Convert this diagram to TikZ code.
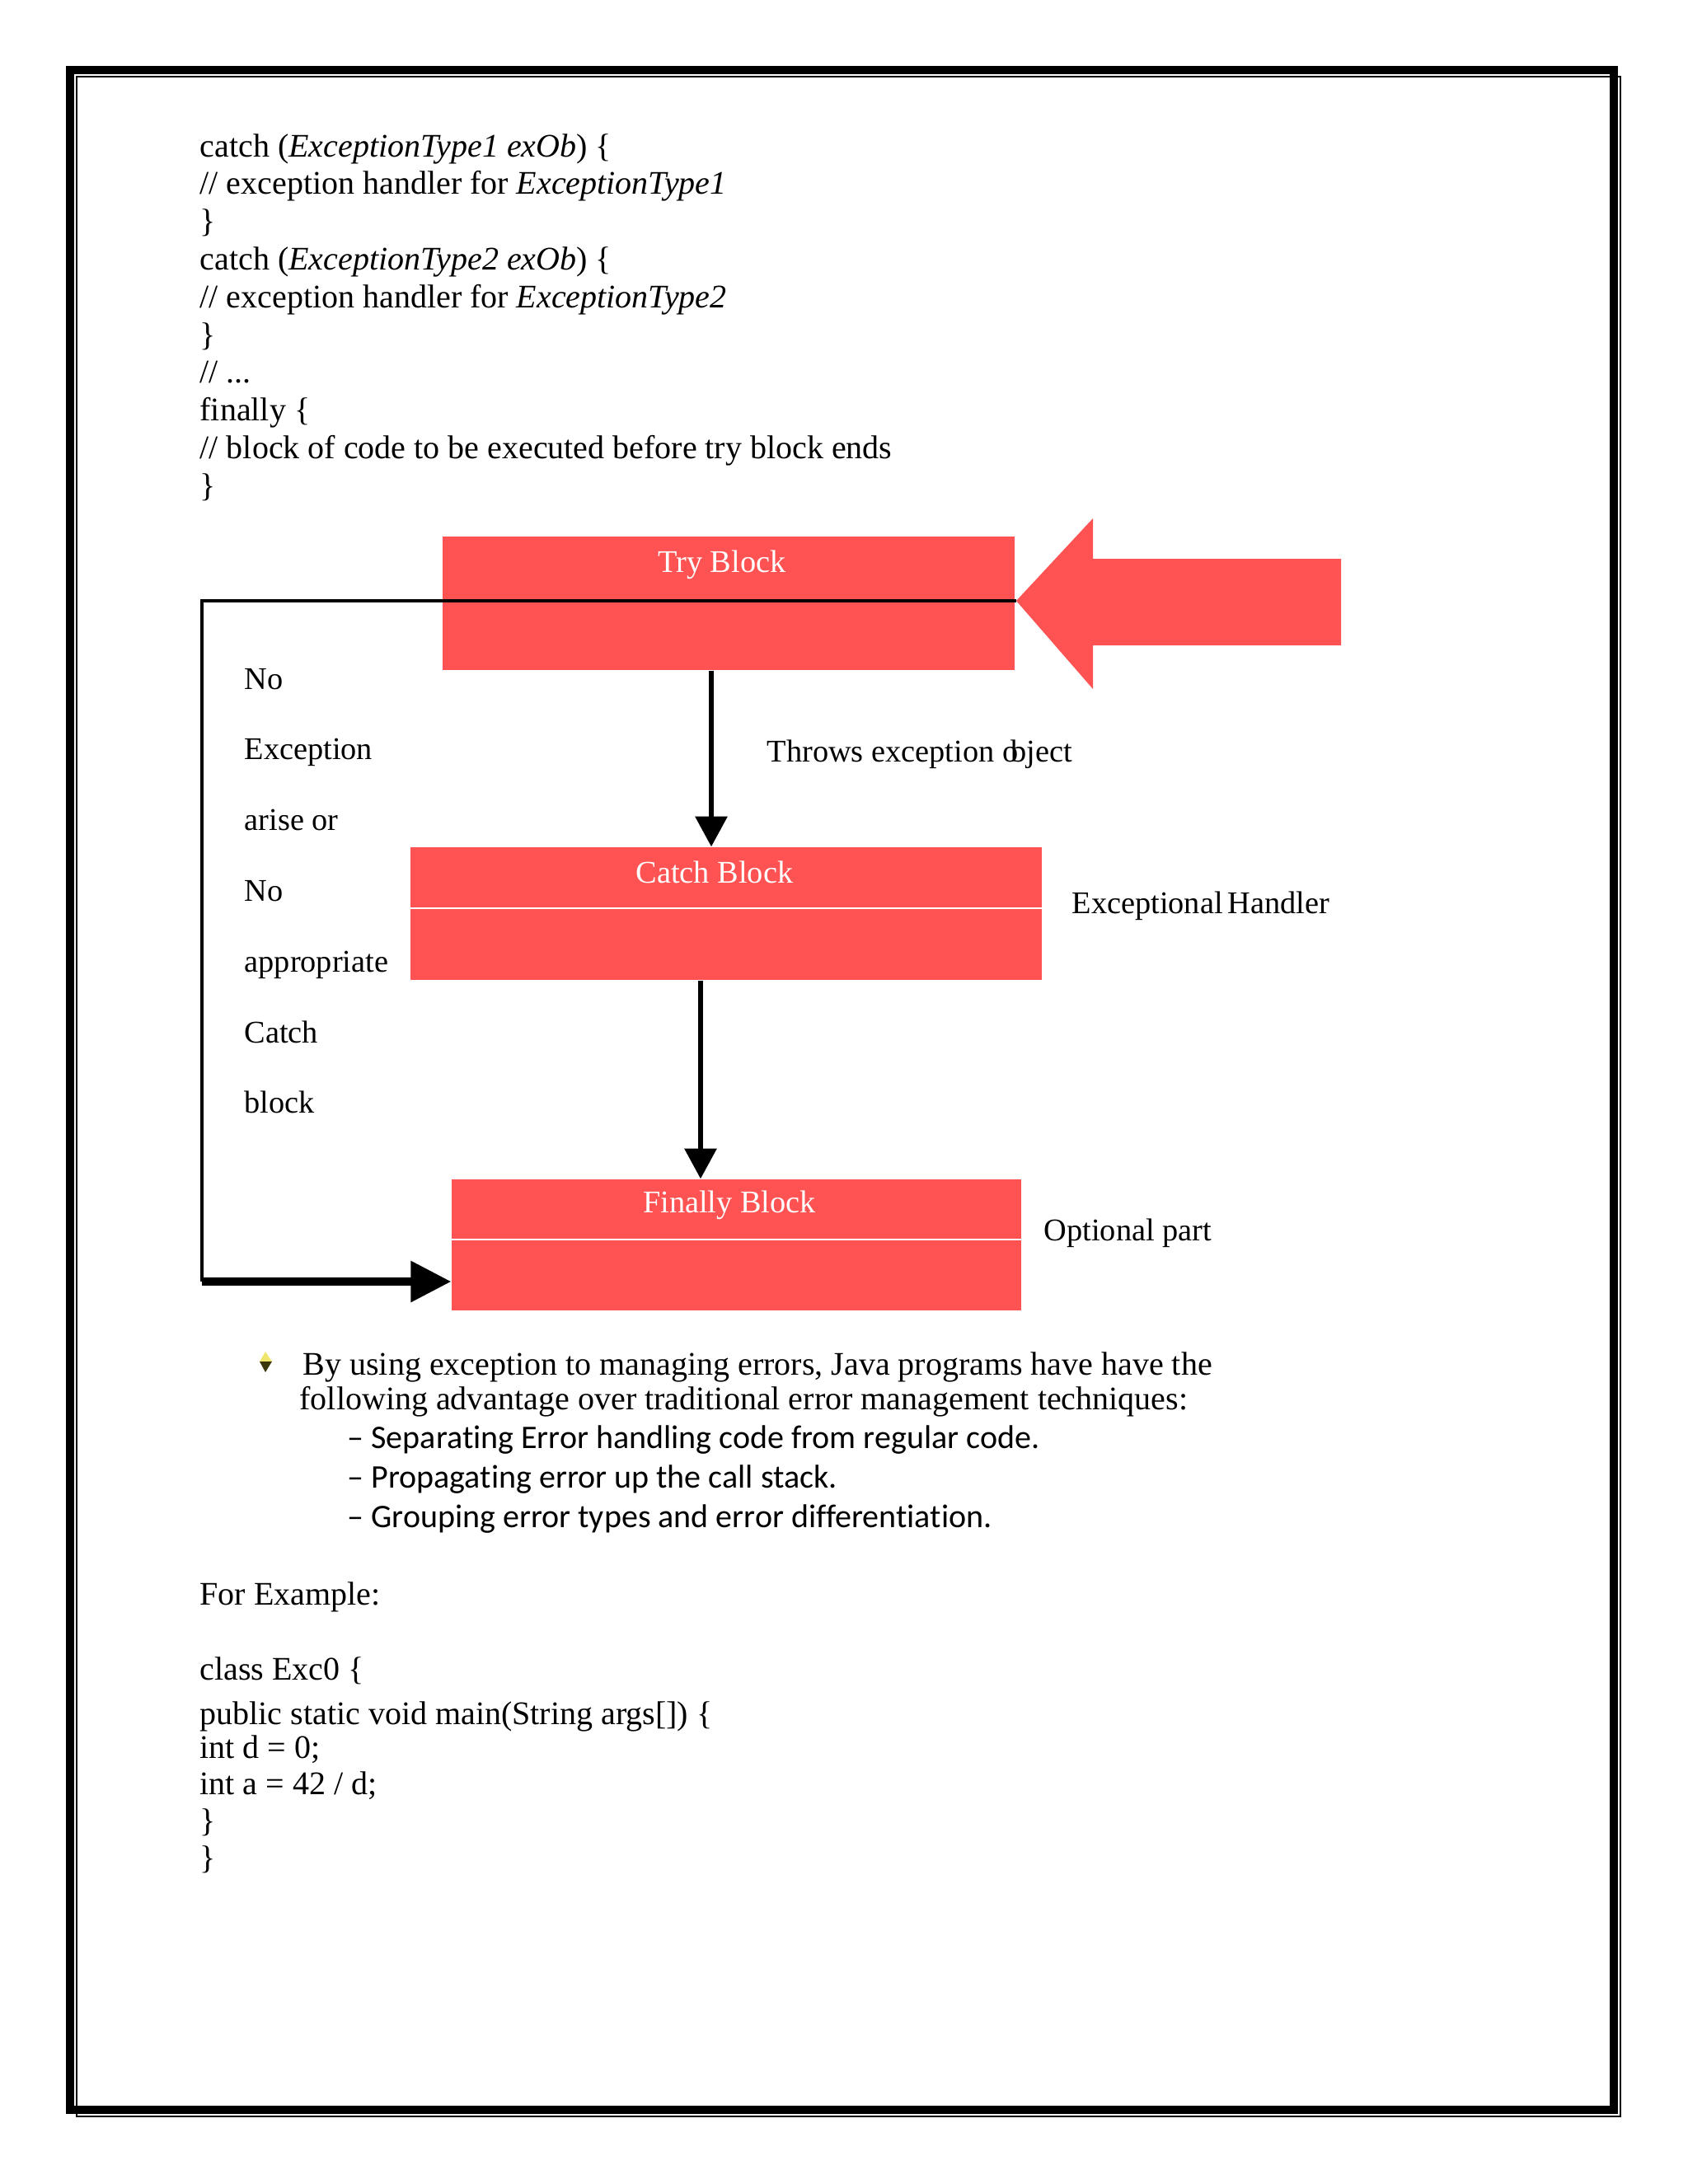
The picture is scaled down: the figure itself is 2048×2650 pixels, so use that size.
\documentclass[tikz,border=0pt]{standalone}
\usepackage{fontspec}
\setmainfont{Liberation Serif}
\newfontfamily\calibrifont[Ligatures=NoCommon]{Carlito}
\usetikzlibrary{arrows.meta,fit}
\definecolor{blockred}{RGB}{255,82,82}
\definecolor{bulletyellow}{RGB}{240,230,110}
\definecolor{bulletdark}{RGB}{60,55,10}

\begin{document}
\begin{tikzpicture}[x=0.010542cm,y=-0.010542cm,
    txt/.style={anchor=base west,inner sep=0pt,font=\fontsize{12}{14}\selectfont},
    lbl/.style={anchor=base west,inner sep=0pt,font=\fontsize{11.5}{13}\selectfont},
    dashitem/.style={anchor=base west,inner sep=0pt,font=\calibrifont\fontsize{12}{14}\selectfont},
    blockbox/.style={fill=blockred,draw=none,inner sep=0pt},
    blocktitle/.style={anchor=base,inner sep=0pt,text=white,font=\fontsize{11.5}{13}\selectfont},
    divider/.style={white,line width=0.6pt},
    flowarrow/.style={line width=1.8pt,-{Triangle[width=11.4pt,length=11pt]}},
    returnline/.style={line width=1.1pt},
    returnarrow/.style={line width=2.8pt,-{Triangle[width=14.4pt,length=14.7pt]}}]
  \useasboundingbox (0,0) rectangle (2048,2650);
  % Page border
  \draw[line width=3pt] (85,85) rectangle (1958,2560);
  \draw[line width=0.5pt] (93,93) rectangle (1966,2568);

  % Syntax of the handlers
  \node[txt] (code1) at (242,190) {catch (\textit{ExceptionType1 exOb}) \{};
  \node[txt] (code2) at (242,235.8) {// exception handler for \textit{ExceptionType1}};
  \node[txt] (code3) at (242,281.6) {\}};
  \node[txt] (code4) at (242,327.4) {catch (\textit{ExceptionType2 exOb}) \{};
  \node[txt] (code5) at (242,373.2) {// exception handler for \textit{ExceptionType2}};
  \node[txt] (code6) at (242,419) {\}};
  \node[txt] (code7) at (242,464.8) {// ...};
  \node[txt] (code8) at (242,510.6) {finally \{};
  \node[txt] (code9) at (242,556.4) {// block of code to be executed before try block ends};
  \node[txt] (code10) at (242,602.2) {\}};

  % Blocks
  \node[blockbox,fit={(537,651) (1231,813)}] (try) {};
  \node[blocktitle] (trytitle) at (876,694) {Try Block};
  \node[blockbox,fit={(498,1028) (1264,1189)}] (catch) {};
  \draw[divider] (catch.west |- 0,1102) -- (catch.east |- 0,1102);
  \node[blocktitle] (catchtitle) at (867,1071) {Catch Block};
  \node[blockbox,fit={(548,1431) (1239,1590)}] (finally) {};
  \draw[divider] (finally.west |- 0,1504) -- (finally.east |- 0,1504);
  \node[blocktitle] (finallytitle) at (885,1471) {Finally Block};

  % Big arrow into the try block
  \coordinate (entry) at (1233,729);
  \fill[blockred] (entry) -- ++(93,-100) -- ++(0,49) -- ++(301,0) -- ++(0,105)
    -- ++(-301,0) -- ++(0,53) -- cycle;

  % Connectors
  \draw[flowarrow] (try.south -| 863,0) -- (catch.north -| 863,0);
  \draw[flowarrow] (catch.south -| 850,0) -- (finally.north -| 850,0);
  \coordinate (bend) at (245,1555);
  \draw[returnline] (entry) -- (entry -| bend) -- (bend);
  \draw[returnarrow] (bend) -- (finally.west |- bend);

  % Side labels
  \foreach \w [count=\i from 0] in {No,Exception,arise or,No,appropriate,Catch,block}
    \node[lbl] (side\i) at (296,836+85.8*\i) {\w};
  \node[lbl] (throws) at (930,924) {Throws exception o\kern-0.22em bject};
  \node[lbl] (handler) at (1300,1108) {Exceptional\hspace{0.15em}Handler};
  \node[lbl] (optional) at (1266,1505) {Optional part};

  % Bullet with advantages
  \fill[bulletyellow] (322,1640) -- (330,1652) -- (315,1652) -- cycle;
  \fill[bulletdark] (315,1652) -- (330,1652) -- (322,1665) -- cycle;
  \node[txt] (adv1) at (367,1668) {By using exception to managing errors, Java programs have have the};
  \node[txt] (adv2) at (363,1710) {following advantage over traditional error management techniques:};
  \node[dashitem] (item1) at (421,1757) {– Separating Error handling code from regular code.};
  \node[dashitem] (item2) at (421,1805) {– Propagating error up the call stack.};
  \node[dashitem] (item3) at (421,1853) {– Grouping error types and error differentiation.};

  % Example program
  \node[txt] (example) at (242,1947) {For Example:};
  \node[txt] (prog1) at (242,2038) {class Exc0 \{};
  \node[txt] (prog2) at (242,2092) {public static void main(String args[]) \{};
  \node[txt] (prog3) at (242,2133) {int d = 0;};
  \node[txt] (prog4) at (242,2177) {int a = 42 / d;};
  \node[txt] (prog5) at (242,2222) {\}};
  \node[txt] (prog6) at (242,2267) {\}};
\end{tikzpicture}
\end{document}
